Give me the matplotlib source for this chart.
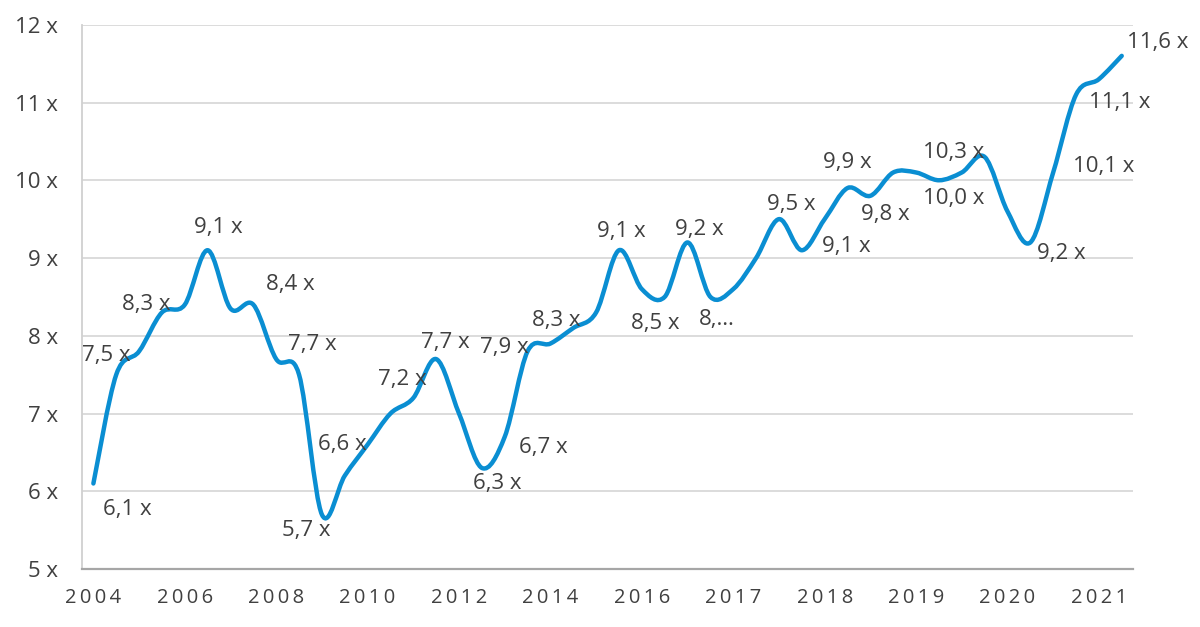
import matplotlib
matplotlib.use('Agg')
import matplotlib.pyplot as plt
from matplotlib.path import Path
from matplotlib.patches import PathPatch
import numpy as np

# multiple per period: semi-annual until 2016, quarterly afterwards
values = [6.1, 7.5, 7.8, 8.3, 8.4, 9.1, 8.35, 8.4, 7.7, 7.5,
          5.7, 6.2, 6.6, 7.0, 7.2, 7.7, 7.0, 6.3, 6.7, 7.8,
          7.9, 8.1, 8.3, 9.1, 8.6, 8.5, 9.2, 8.5, 8.6, 9.0,
          9.5, 9.1, 9.5, 9.9, 9.8, 10.1, 10.1, 10.0, 10.1, 10.3,
          9.6, 9.2, 10.1, 11.1, 11.3, 11.6]
year_labels = ['2004', '2006', '2008', '2010', '2012', '2014',
               '2016', '2017', '2018', '2019', '2020', '2021']
y_ticks = [5, 6, 7, 8, 9, 10, 11, 12]

# which points carry a data label, and the label text
label_idx = [0, 1, 3, 5, 7, 8, 10, 12, 14, 15, 17, 18, 20, 22, 23, 25,
             26, 27, 30, 31, 33, 34, 37, 39, 41, 42, 43, 45]
label_override = {27: '8,\u2026'}
# label offsets in pixels (dx right, dy up)
label_off = [(34, -26), (-10, 19), (-16, 8), (11, 23), (37, 20), (36, 15),
             (-16, -16), (-25, 0), (-11, 18), (9, 17), (15, -16), (39, -11),
             (-46, -4), (-40, -8), (2, 19), (-9, -27), (12, 13), (6, -23),
             (12, 15), (45, 4), (0, 26), (15, -19), (15, -18), (-31, 4),
             (31, -11), (51, 6), (44, -8), (36, 13)]

blue = '#0a8ed2'
grey_txt = '#404040'
fonts = ['Open Sans', 'DejaVu Sans']

fig = plt.figure(figsize=(12, 6.27), dpi=100)
ax = fig.add_axes([0.0683, 0.0925, 0.876, 0.868])

x = np.arange(len(values))
y = np.array(values)

# smoothed line like excel: cubic bezier through every point
verts = [(x[0], y[0])]
codes = [Path.MOVETO]
n = len(x)
for i in range(n - 1):
    p0 = np.array([x[max(i - 1, 0)], y[max(i - 1, 0)]])
    p1 = np.array([x[i], y[i]])
    p2 = np.array([x[i + 1], y[i + 1]])
    p3 = np.array([x[min(i + 2, n - 1)], y[min(i + 2, n - 1)]])
    c1 = p1 + (p2 - p0) / 6.0
    c2 = p2 - (p3 - p1) / 6.0
    verts += [tuple(c1), tuple(c2), tuple(p2)]
    codes += [Path.CURVE4] * 3
ax.add_patch(PathPatch(Path(verts, codes), fill=False, edgecolor=blue,
                       lw=3.2, capstyle='round', joinstyle='round', zorder=3))

for k, i in enumerate(label_idx):
    txt = label_override.get(i, ('%.1f x' % values[i]).replace('.', ','))
    ax.annotate(txt, (x[i], y[i]), xytext=label_off[k], textcoords='offset pixels',
                ha='center', va='center', fontsize=16, color=grey_txt,
                family=fonts, zorder=4)

ax.set_xlim(-0.5, n - 0.5)
ax.set_ylim(5, 12)
ax.set_yticks(y_ticks)
ax.set_yticklabels(['%d x' % v for v in y_ticks], family=fonts,
                   fontsize=16, color=grey_txt)
ax.set_xticks(np.arange(0, n, 4))
ax.set_xticklabels(['\u2009'.join(s) for s in year_labels], family=fonts,
                   fontsize=14.5, color=grey_txt)
ax.tick_params(axis='y', length=0, pad=17)
ax.tick_params(axis='x', length=0, pad=14)

ax.grid(axis='y', color='#d9d9d9', lw=1.3)
ax.set_axisbelow(True)
for s in ['top', 'right']:
    ax.spines[s].set_visible(False)
ax.spines['left'].set_color('#d0d0d0')
ax.spines['left'].set_linewidth(1.3)
ax.spines['bottom'].set_color('#a6a6a6')
ax.spines['bottom'].set_linewidth(1.6)

fig.savefig('out.png', dpi=100)
